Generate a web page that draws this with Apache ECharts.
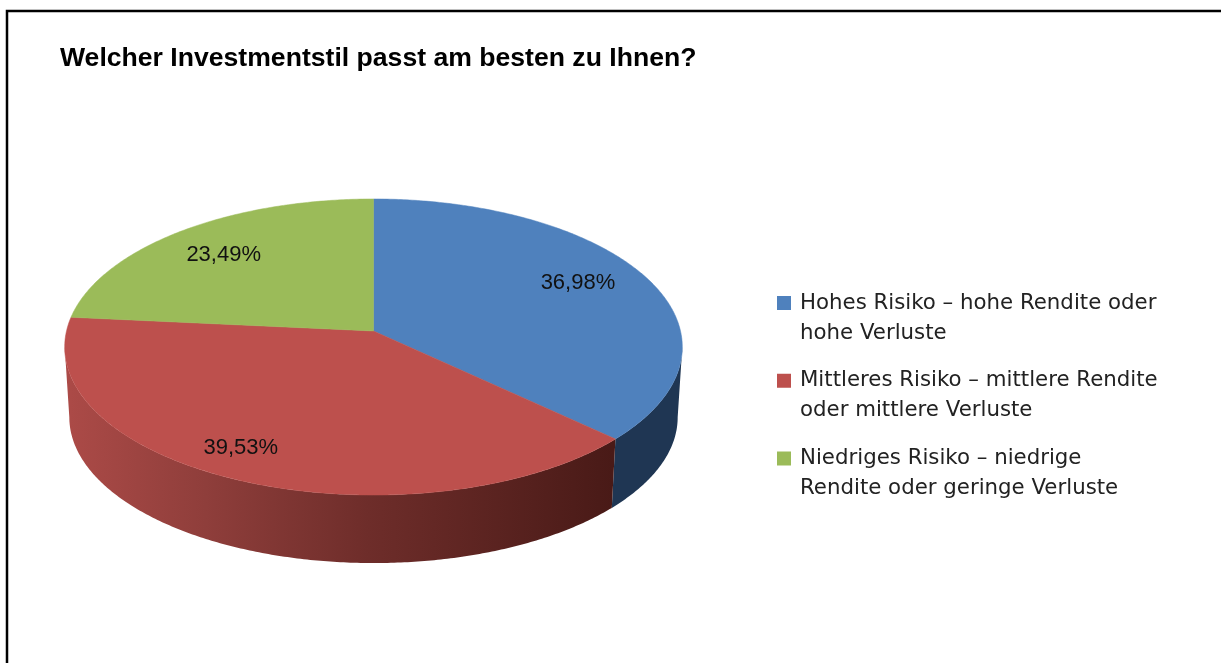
<!DOCTYPE html>
<html>
<head>
<meta charset="utf-8">
<style>html,body{margin:0;padding:0;background:#fff}#c{width:1221px;height:663px}</style>
<script src="https://cdn.jsdelivr.net/npm/echarts@6/dist/echarts.min.js"></script>
</head>
<body>
<div id="c"></div>
<script>
var titleText = 'Welcher Investmentstil passt am besten zu Ihnen?';
var categoryFirstLines = ['Hohes Risiko – hohe Rendite oder', 'Mittleres Risiko – mittlere Rendite', 'Niedriges Risiko – niedrige'];
var categorySecondLines = ['hohe Verluste', 'oder mittlere Verluste', 'Rendite oder geringe Verluste'];
var shares = [36.98, 39.53, 23.49];

var topColors = ['#4F81BD', '#BD504D', '#9BBB59'];
var labelNudges = [[-5.5, -5], [-27.5, 6], [0, 2]];

// perspective projection of the disc onto the screen
var P = {cx: 373.5, cy: 331, a: 307, b: 146.3, k: 0.1081, depth: 70.5, shrink: 0.985};
var rightTangent = Math.acos(-P.k), leftTangent = 2 * Math.PI - rightTangent;
function project(theta, f, lower) {
  var X = Math.sin(theta) * f, Y = -Math.cos(theta) * f, w = 1 - P.k * Y;
  var s = lower ? P.shrink : 1;
  return [P.cx + s * P.a * X / w, P.cy + (lower ? P.depth : 0) + s * P.b * Y / w];
}
function arc(from, to, lower) {
  var n = Math.max(2, Math.ceil((to - from) / 0.01)), pts = [];
  for (var i = 0; i <= n; i++) pts.push(project(from + (to - from) * i / n, 1, lower));
  return pts;
}
var total = shares.reduce(function (a, b) { return a + b; }, 0);
var sideFills = [
  '#1F3653',
  new echarts.graphic.LinearGradient(70, 0, 612, 0, [
    {offset: 0, color: '#AB4A47'}, {offset: 0.25, color: '#8F3E3B'},
    {offset: 0.55, color: '#6E2D2A'}, {offset: 1, color: '#491A17'}], true),
  '#6F8A3F'
];

function makeSeries(idx) {
  var before = shares.slice(0, idx).reduce(function (a, b) { return a + b; }, 0);
  return {
    type: 'custom',
    name: categoryFirstLines[idx] + ' ' + categorySecondLines[idx],
    coordinateSystem: 'none',
    silent: true,
    animation: false,
    itemStyle: {color: topColors[idx]},
    data: [[shares[idx]]],
    renderItem: function (params, api) {
      var v = api.value(0);
      var t0 = before / total * 2 * Math.PI, t1 = (before + v) / total * 2 * Math.PI;
      var top = arc(t0, t1, false);
      var mid = project((t0 + t1) / 2, 0.77, false), nudge = labelNudges[idx];
      var children = [
        {type: 'polygon', z2: 10,
         shape: {points: [[P.cx, P.cy]].concat(top)},
         style: {fill: topColors[idx], stroke: topColors[idx], lineWidth: 0.5}},
        {type: 'text', z2: 20, x: mid[0] + nudge[0], y: mid[1] + nudge[1],
         style: {text: v.toFixed(2).replace('.', ',') + '%', fill: '#111',
                 font: '22px "Liberation Sans"', align: 'center', verticalAlign: 'middle'}}
      ];
      // only the part of the rim between the two silhouette tangents faces the viewer
      var w0 = Math.max(t0, rightTangent), w1 = Math.min(t1, leftTangent);
      if (w1 > w0) {
        children.unshift({type: 'polygon', z2: 1,
          shape: {points: arc(w0, w1, false).concat(arc(w0, w1, true).reverse())},
          style: {fill: sideFills[idx]}});
      }
      return {type: 'group', children: children};
    }
  };
}

var chart = echarts.init(document.getElementById('c'), null, {renderer: 'canvas'});
var names = shares.map(function (_, i) { return categoryFirstLines[i] + ' ' + categorySecondLines[i]; });
chart.setOption({
  animation: false,
  backgroundColor: '#fff',
  title: {text: titleText, left: 55, top: 40,
          textStyle: {fontFamily: 'Liberation Sans', fontWeight: 'bold', fontSize: 26.6, color: '#000'}},
  legend: {
    orient: 'vertical', left: 772, top: 250, icon: 'rect', itemWidth: 14, itemHeight: 14, itemGap: -18.25,
    selectedMode: false, data: names,
    textStyle: {fontFamily: 'DejaVu Sans', fontSize: 21.3, color: '#222', lineHeight: 30, padding: [6, 0, 0, 4]},
    formatter: function (name) {
      var i = names.indexOf(name);
      return '\n' + categoryFirstLines[i] + '\n' + categorySecondLines[i];
    }
  },
  graphic: [{type: 'rect', silent: true, z: -1,
             shape: {x: 7, y: 11, width: 1400, height: 900},
             style: {fill: 'none', stroke: '#000', lineWidth: 2.5}}],
  series: shares.map(function (_, i) { return makeSeries(i); })
});
</script>
</body>
</html>
